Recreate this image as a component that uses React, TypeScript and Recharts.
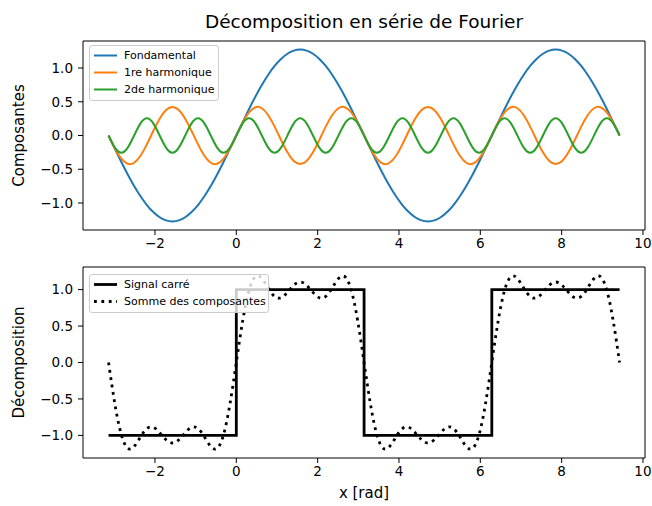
import React from "react";
import {
  LineChart,
  Line,
  XAxis,
  YAxis,
  ReferenceArea,
} from "recharts";

// x sampled every pi/20 from -pi to 3pi
const xs = [
  -3.142, -2.985, -2.827, -2.67, -2.513, -2.356, -2.199, -2.042, -1.885, -1.728,
  -1.571, -1.414, -1.257, -1.1, -0.942, -0.785, -0.628, -0.471, -0.314, -0.157,
  0, 0.157, 0.314, 0.471, 0.628, 0.785, 0.942, 1.1, 1.257, 1.414,
  1.571, 1.728, 1.885, 2.042, 2.199, 2.356, 2.513, 2.67, 2.827, 2.985,
  3.142, 3.299, 3.456, 3.613, 3.77, 3.927, 4.084, 4.241, 4.398, 4.555,
  4.712, 4.869, 5.027, 5.184, 5.341, 5.498, 5.655, 5.812, 5.969, 6.126,
  6.283, 6.44, 6.597, 6.754, 6.912, 7.069, 7.226, 7.383, 7.54, 7.697,
  7.854, 8.011, 8.168, 8.325, 8.482, 8.639, 8.796, 8.954, 9.111, 9.268,
  9.425,
];

const fondamental = [
  0, -0.199, -0.393, -0.578, -0.748, -0.9, -1.03, -1.134, -1.211, -1.258,
  -1.273, -1.258, -1.211, -1.134, -1.03, -0.9, -0.748, -0.578, -0.393, -0.199,
  0, 0.199, 0.393, 0.578, 0.748, 0.9, 1.03, 1.134, 1.211, 1.258,
  1.273, 1.258, 1.211, 1.134, 1.03, 0.9, 0.748, 0.578, 0.393, 0.199,
  0, -0.199, -0.393, -0.578, -0.748, -0.9, -1.03, -1.134, -1.211, -1.258,
  -1.273, -1.258, -1.211, -1.134, -1.03, -0.9, -0.748, -0.578, -0.393, -0.199,
  0, 0.199, 0.393, 0.578, 0.748, 0.9, 1.03, 1.134, 1.211, 1.258,
  1.273, 1.258, 1.211, 1.134, 1.03, 0.9, 0.748, 0.578, 0.393, 0.199,
  0,
];

const harmonique1 = [
  0, -0.193, -0.343, -0.419, -0.404, -0.3, -0.131, 0.066, 0.249, 0.378,
  0.424, 0.378, 0.249, 0.066, -0.131, -0.3, -0.404, -0.419, -0.343, -0.193,
  0, 0.193, 0.343, 0.419, 0.404, 0.3, 0.131, -0.066, -0.249, -0.378,
  -0.424, -0.378, -0.249, -0.066, 0.131, 0.3, 0.404, 0.419, 0.343, 0.193,
  0, -0.193, -0.343, -0.419, -0.404, -0.3, -0.131, 0.066, 0.249, 0.378,
  0.424, 0.378, 0.249, 0.066, -0.131, -0.3, -0.404, -0.419, -0.343, -0.193,
  0, 0.193, 0.343, 0.419, 0.404, 0.3, 0.131, -0.066, -0.249, -0.378,
  -0.424, -0.378, -0.249, -0.066, 0.131, 0.3, 0.404, 0.419, 0.343, 0.193,
  0,
];

const harmonique2 = [
  0, -0.18, -0.255, -0.18, 0, 0.18, 0.255, 0.18,
  0, -0.18, -0.255, -0.18, 0, 0.18, 0.255, 0.18,
  0, -0.18, -0.255, -0.18, 0, 0.18, 0.255, 0.18,
  0, -0.18, -0.255, -0.18, 0, 0.18, 0.255, 0.18,
  0, -0.18, -0.255, -0.18, 0, 0.18, 0.255, 0.18,
  0, -0.18, -0.255, -0.18, 0, 0.18, 0.255, 0.18,
  0, -0.18, -0.255, -0.18, 0, 0.18, 0.255, 0.18,
  0, -0.18, -0.255, -0.18, 0, 0.18, 0.255, 0.18,
  0, -0.18, -0.255, -0.18, 0, 0.18, 0.255, 0.18,
  0, -0.18, -0.255, -0.18, 0, 0.18, 0.255, 0.18,
  0,
];

const somme = [
  0, -0.572, -0.991, -1.177, -1.152, -1.02, -0.906, -0.888, -0.962, -1.06,
  -1.104, -1.06, -0.962, -0.888, -0.906, -1.02, -1.152, -1.177, -0.991, -0.572,
  0, 0.572, 0.991, 1.177, 1.152, 1.02, 0.906, 0.888, 0.962, 1.06,
  1.104, 1.06, 0.962, 0.888, 0.906, 1.02, 1.152, 1.177, 0.991, 0.572,
  0, -0.572, -0.991, -1.177, -1.152, -1.02, -0.906, -0.888, -0.962, -1.06,
  -1.104, -1.06, -0.962, -0.888, -0.906, -1.02, -1.152, -1.177, -0.991, -0.572,
  0, 0.572, 0.991, 1.177, 1.152, 1.02, 0.906, 0.888, 0.962, 1.06,
  1.104, 1.06, 0.962, 0.888, 0.906, 1.02, 1.152, 1.177, 0.991, 0.572,
  0,
];

// square signal, drawn as steps
const carreX = [-3.142, 0, 3.142, 6.283, 9.425];
const carreY = [-1, 1, -1, 1, 1];

const xTicks = [-2, 0, 2, 4, 6, 8, 10];
const yTicks = [-1, -0.5, 0, 0.5, 1];

const X_DOMAIN: [number, number] = [-3.77, 10.05];
const FONT = "DejaVu Sans, sans-serif";

const data = xs.map((x, i) => ({
  x,
  f: fondamental[i],
  h1: harmonique1[i],
  h2: harmonique2[i],
  s: somme[i],
}));
const carre = carreX.map((x, i) => ({ x, y: carreY[i] }));

const fmtX = (v: number) => String(v).replace("-", "\u2212");
const fmtY = (v: number) => v.toFixed(1).replace("-", "\u2212");

const tickStyle = { fontSize: 13.5, fill: "#000", fontFamily: FONT };

const YLabel = ({ viewBox, text }: any) => {
  const cy = viewBox.y + viewBox.height / 2;
  return (
    <text
      x={19}
      y={cy}
      transform={`rotate(-90, 19, ${cy})`}
      textAnchor="middle"
      dominantBaseline="central"
      fontSize={15}
      fontFamily={FONT}
      fill="#000"
    >
      {text}
    </text>
  );
};

const XLabel = ({ viewBox }: any) => (
  <text
    x={viewBox.x + viewBox.width / 2}
    y={viewBox.y + 40}
    textAnchor="middle"
    fontSize={15}
    fontFamily={FONT}
    fill="#000"
  >
    x [rad]
  </text>
);

type Item = { label: string; color: string; width: number; dash?: string };

function LegendBox({ items, left, top, width }: { items: Item[]; left: number; top: number; width: number }) {
  return (
    <div
      style={{
        position: "absolute",
        left,
        top,
        width,
        padding: "1px 0 2px 0",
        border: "1px solid #ccc",
        borderRadius: 3,
        background: "rgba(255,255,255,0.8)",
        boxSizing: "border-box",
        fontFamily: FONT,
        fontSize: 11,
        color: "#000",
      }}
    >
      {items.map((it) => (
        <div key={it.label} style={{ display: "flex", alignItems: "center", height: 17 }}>
          <svg width={34} height={17} style={{ flex: "none" }}>
            <line
              x1={4}
              x2={27}
              y1={8.5}
              y2={8.5}
              stroke={it.color}
              strokeWidth={it.width}
              strokeDasharray={it.dash}
            />
          </svg>
          <span style={{ whiteSpace: "nowrap" }}>{it.label}</span>
        </div>
      ))}
    </div>
  );
}

export default function App() {
  return (
    <div style={{ position: "absolute", left: 0, top: 0, width: 652, height: 506, background: "#fff" }}>
      <div
        style={{
          position: "absolute",
          left: 83,
          top: 13,
          width: 562,
          textAlign: "center",
          fontFamily: FONT,
          fontSize: 18.5,
          lineHeight: "18.5px",
          color: "#000",
        }}
      >
        Décomposition en série de Fourier
      </div>

      <div style={{ position: "absolute", left: 0, top: 0 }}>
        <LineChart width={652} height={262} data={data} margin={{ top: 41, right: 7, bottom: 0, left: 0 }}>
          <XAxis
            dataKey="x"
            type="number"
            domain={X_DOMAIN}
            ticks={xTicks}
            allowDataOverflow
            tickFormatter={fmtX}
            axisLine={false}
            tickLine={{ stroke: "#000" }}
            tickSize={5}
            tickMargin={3}
            tick={tickStyle}
            height={32}
          />
          <YAxis
            type="number"
            domain={[-1.4, 1.4]}
            ticks={yTicks}
            allowDataOverflow
            tickFormatter={fmtY}
            axisLine={false}
            tickLine={{ stroke: "#000" }}
            tickSize={5}
            tickMargin={5}
            tick={tickStyle}
            width={83}
            label={<YLabel text="Composantes" />}
          />
          <ReferenceArea x1={X_DOMAIN[0]} x2={X_DOMAIN[1]} y1={-1.4} y2={1.4} fill="none" stroke="#000" strokeWidth={1} />
          <Line type="natural" dataKey="f" stroke="#1f77b4" strokeWidth={2} dot={false} isAnimationActive={false} />
          <Line type="natural" dataKey="h1" stroke="#ff7f0e" strokeWidth={2} dot={false} isAnimationActive={false} />
          <Line type="natural" dataKey="h2" stroke="#2ca02c" strokeWidth={2} dot={false} isAnimationActive={false} />
        </LineChart>
      </div>

      <div style={{ position: "absolute", left: 0, top: 245 }}>
        <LineChart width={652} height={261} data={data} margin={{ top: 22, right: 7, bottom: 0, left: 0 }}>
          <XAxis
            dataKey="x"
            type="number"
            domain={X_DOMAIN}
            ticks={xTicks}
            allowDataOverflow
            tickFormatter={fmtX}
            axisLine={false}
            tickLine={{ stroke: "#000" }}
            tickSize={5}
            tickMargin={3}
            tick={tickStyle}
            height={48}
            label={<XLabel />}
          />
          <YAxis
            type="number"
            domain={[-1.31, 1.31]}
            ticks={yTicks}
            allowDataOverflow
            tickFormatter={fmtY}
            axisLine={false}
            tickLine={{ stroke: "#000" }}
            tickSize={5}
            tickMargin={5}
            tick={tickStyle}
            width={83}
            label={<YLabel text="Décomposition" />}
          />
          <ReferenceArea x1={X_DOMAIN[0]} x2={X_DOMAIN[1]} y1={-1.31} y2={1.31} fill="none" stroke="#000" strokeWidth={1} />
          <Line data={carre} type="stepAfter" dataKey="y" stroke="#000" strokeWidth={2.8} dot={false} isAnimationActive={false} />
          <Line type="natural" dataKey="s" stroke="#000" strokeWidth={2.8} strokeDasharray="2.8 4.6" dot={false} isAnimationActive={false} />
        </LineChart>
      </div>

      <LegendBox
        left={89}
        top={45}
        width={130}
        items={[
          { label: "Fondamental", color: "#1f77b4", width: 2 },
          { label: "1re harmonique", color: "#ff7f0e", width: 2 },
          { label: "2de harmonique", color: "#2ca02c", width: 2 },
        ]}
      />
      <LegendBox
        left={89}
        top={274}
        width={180}
        items={[
          { label: "Signal carré", color: "#000", width: 2.8 },
          { label: "Somme des composantes", color: "#000", width: 2.8, dash: "2.8 4.6" },
        ]}
      />
    </div>
  );
}
